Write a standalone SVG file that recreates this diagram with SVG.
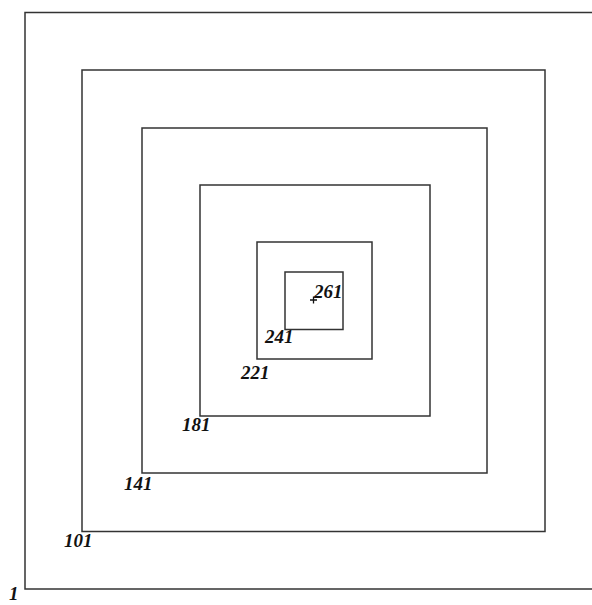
<svg xmlns="http://www.w3.org/2000/svg" width="592" height="605" viewBox="0 0 592 605">
<style>
rect.sq{fill:none;stroke:#333;stroke-width:1.5}
text{font-family:"Liberation Serif","Times New Roman",serif;font-weight:bold;font-style:italic;font-size:19px;fill:#111}
</style>
<rect width="592" height="605" fill="#fff"/>
<g id="sq1"><rect class="sq" x="25" y="12.5" width="577" height="576.5"/><text x="9" y="600">1</text></g>
<g id="sq101"><rect class="sq" x="82" y="70" width="463" height="461.5"/><text x="64" y="547">101</text></g>
<g id="sq141"><rect class="sq" x="142" y="128" width="345" height="345"/><text x="124" y="490">141</text></g>
<g id="sq181"><rect class="sq" x="200" y="185" width="230" height="231"/><text x="182" y="431">181</text></g>
<g id="sq221"><rect class="sq" x="257" y="242" width="115" height="117"/><text x="241" y="379">221</text></g>
<g id="sq241"><rect class="sq" x="285" y="272" width="58" height="57.5"/><text x="265" y="343">241</text></g>
<g id="c261"><path d="M310 300h7M313.5 296.5v7" stroke="#111" stroke-width="1.3"/><text x="314" y="298">261</text></g>
</svg>
